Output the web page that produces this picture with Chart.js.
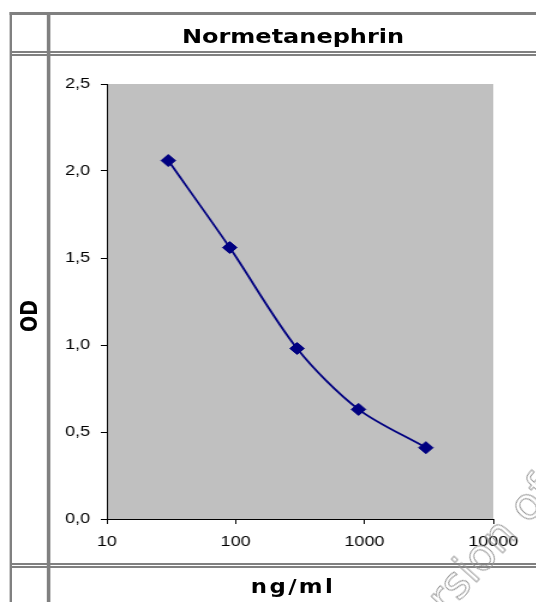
<!DOCTYPE html>
<html lang="de">
<head>
  <meta charset="UTF-8" />
  <title>Normetanephrin</title>
  <script src="https://cdn.jsdelivr.net/npm/chart.js"></script>
  <style>
    body { margin: 0; background: #fff; width: 536px; height: 602px; overflow: hidden; position: relative; }
    /* the source picture is stretched sideways, so the whole sheet is drawn narrow and widened */
    #sheet { position: absolute; left: 0; top: 0; width: 446.67px; height: 602px; transform: scaleX(1.2); transform-origin: 0 0; }
    .ln { position: absolute; background: #808080; }
    .lbl { position: absolute; font-family: "DejaVu Sans", Verdana, sans-serif; font-weight: bold; color: #000; white-space: nowrap; }
    #title { left: 41.7px; width: 405px; top: 26px; font-size: 20px; line-height: 20px; text-align: center; }
    #xlabel { left: 41.7px; width: 405px; top: 577px; font-size: 19px; line-height: 19px; text-align: center; letter-spacing: 2px; }
    #ylabel { left: 24.2px; top: 316px; font-size: 19px; line-height: 19px; transform: translate(-50%, -50%) rotate(-90deg); }
    #box { position: absolute; left: 41.7px; top: 56px; width: 405px; height: 506px; }
    #mark { position: absolute; left: 380px; top: 628px; font: 44px "DejaVu Sans", sans-serif; color: transparent;
            -webkit-text-stroke: 1px #999; transform: rotate(-48deg); transform-origin: 0 0; white-space: nowrap; }
  </style>
</head>
<body>
  <div id="sheet">
    <!-- frame -->
    <div class="ln" style="left:7.5px; top:12px; width:440px; height:3px;"></div>
    <div class="ln" style="left:7.5px; top:12px; width:2.5px; height:590px;"></div>
    <div class="ln" style="left:39.2px; top:12px; width:2.5px; height:590px;"></div>
    <div class="ln" style="left:9.2px; top:51px; width:438px; height:2px;"></div>
    <div class="ln" style="left:9.2px; top:54px; width:438px; height:2px;"></div>
    <div class="ln" style="left:9.2px; top:563px; width:438px; height:2px;"></div>
    <div class="ln" style="left:9.2px; top:566px; width:438px; height:2px;"></div>

    <div id="title" class="lbl">Normetanephrin</div>
    <div id="ylabel" class="lbl">OD</div>
    <div id="xlabel" class="lbl">ng/ml</div>

    <div id="box"><canvas id="curve"></canvas></div>
  </div>
  <div id="mark">Version of</div>

  <script>
    // standard curve
    const concentrations = [30, 90, 300, 900, 3000];   // ng/ml
    const odValues = [2.06, 1.56, 0.98, 0.63, 0.41];   // OD
    const xTickValues = [10, 100, 1000, 10000];
    const yMin = 0, yMax = 2.5, yStep = 0.5;

    const points = concentrations.map((c, i) => ({ x: c, y: odValues[i] }));

    // grey plot area like the Excel original
    const plotBg = {
      id: 'plotBg',
      beforeDraw(chart) {
        const a = chart.chartArea, ctx = chart.ctx;
        ctx.save();
        ctx.fillStyle = '#C0C0C0';
        ctx.fillRect(a.left, a.top, a.right - a.left, a.bottom - a.top);
        ctx.restore();
      }
    };

    const tickFont = { family: '"Liberation Sans", Arial, sans-serif', size: 15 };

    new Chart(document.getElementById('curve'), {
      type: 'line',
      data: {
        datasets: [{
          data: points,
          borderColor: '#000080',
          backgroundColor: '#000080',
          borderWidth: 1.8,
          tension: 0.3,
          pointStyle: 'rectRot',
          pointRadius: 6,
          pointBorderWidth: 1,
          pointBorderColor: '#000080',
          pointBackgroundColor: '#000080'
        }]
      },
      options: {
        responsive: true,
        maintainAspectRatio: false,
        animation: false,
        layout: { padding: { top: 28, right: 36, bottom: 0, left: 0 } },
        plugins: { legend: { display: false }, tooltip: { enabled: false } },
        scales: {
          x: {
            type: 'logarithmic',
            min: 10, max: 10000,
            afterBuildTicks: s => { s.ticks = xTickValues.map(v => ({ value: v })); },
            afterFit: s => { s.height = 43; },
            ticks: { font: tickFont, color: '#000', padding: 9, maxRotation: 0, autoSkip: false,
                     callback: v => String(v) },
            grid: { drawOnChartArea: false, drawTicks: true, tickLength: 5, tickColor: '#000' },
            border: { color: '#000', width: 1 }
          },
          y: {
            min: yMin, max: yMax,
            afterFit: s => { s.width = 47; },
            ticks: { stepSize: yStep, font: tickFont, color: '#000', padding: 9,
                     callback: v => v.toFixed(1).replace('.', ',') },
            grid: { drawOnChartArea: false, drawTicks: true, tickLength: 5, tickColor: '#000' },
            border: { color: '#000', width: 1 }
          }
        }
      },
      plugins: [plotBg]
    });
  </script>
</body>
</html>
